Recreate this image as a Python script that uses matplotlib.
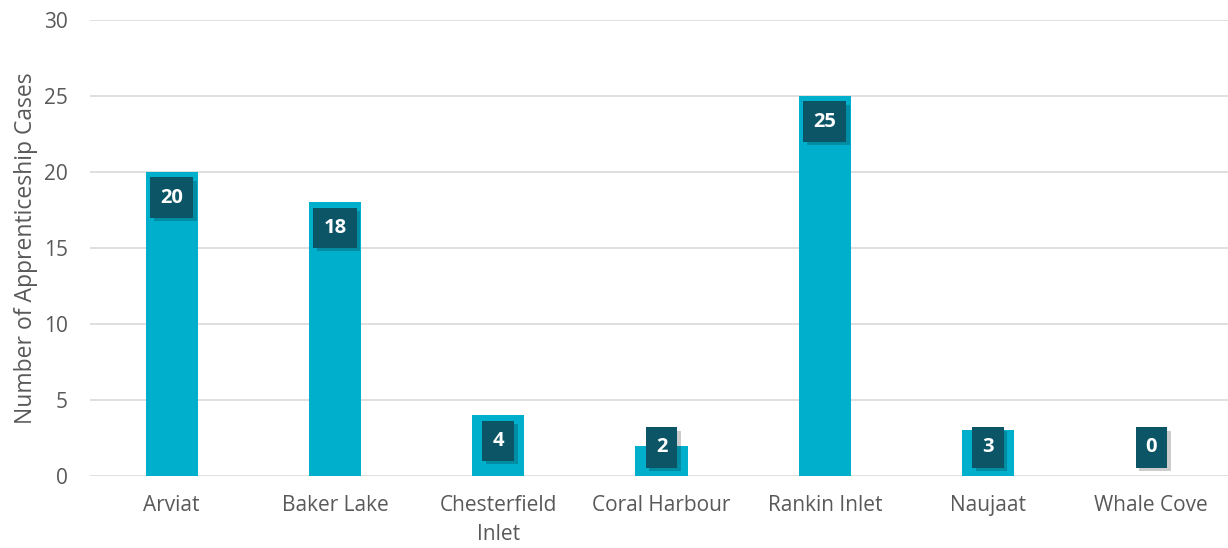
import matplotlib.pyplot as plt
import matplotlib.patheffects as pe
import numpy as np

communities = ['Arviat', 'Baker Lake', 'Chesterfield\nInlet', 'Coral Harbour',
               'Rankin Inlet', 'Naujaat', 'Whale Cove']
cases = [20, 18, 4, 2, 25, 3, 0]

plt.rcParams['font.family'] = ['Open Sans', 'DejaVu Sans']

fig = plt.figure(figsize=(12.28, 5.48), dpi=100)
ax = fig.add_axes([90 / 1228, 1 - 476 / 548, 1143 / 1228, 456 / 548])

x = np.arange(len(communities))
ax.bar(x, cases, width=0.32, color='#00AFCC', zorder=2)

# labels sit just inside the bar end, but never drop below the axis
for xi, v in zip(x, cases):
    ly = max(v - 1.68, 1.875)
    t = ax.text(xi, ly, str(v), ha='center', va='center', fontsize=14.5,
                fontweight='bold', color='white', zorder=4,
                bbox=dict(boxstyle='square,pad=0.5', fc='#0B5566', ec='none'))
    t.get_bbox_patch().set_path_effects([
        pe.SimplePatchShadow(offset=(2.5, -2.5), shadow_rgbFace='black', alpha=0.2),
        pe.Normal()])

ax.set_xlim(-0.5, len(communities) - 0.5)
ax.set_ylim(0, 30)
ax.set_yticks(range(0, 31, 5))
ax.set_xticks(x)
ax.set_xticklabels(communities, fontsize=15, color='#595959', linespacing=1.45)
ax.tick_params(axis='y', labelsize=15, labelcolor='#595959', length=0, pad=16)
ax.tick_params(axis='x', length=0, pad=14)
ax.grid(axis='y', color='#D9D9D9', linewidth=1.2, zorder=0)
for s in ax.spines.values():
    s.set_visible(False)
ax.set_ylabel('Number of Apprenticeship Cases', fontsize=16.5, color='#595959', labelpad=4)

fig.savefig('out.png', dpi=100)
